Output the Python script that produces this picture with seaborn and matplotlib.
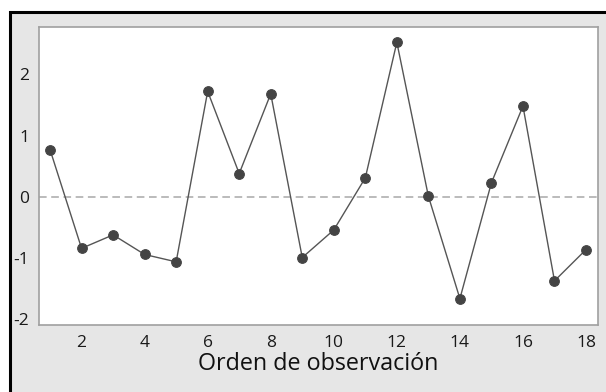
import matplotlib
matplotlib.use("Agg")
import matplotlib.pyplot as plt
import seaborn as sns
import pandas as pd
from matplotlib.patches import Rectangle

orden = list(range(1, 19))
residuos = [0.77, -0.84, -0.62, -0.94, -1.06, 1.72, 0.38, 1.68, -0.99,
            -0.54, 0.31, 2.52, 0.01, -1.66, 0.23, 1.48, -1.37, -0.86]
xticks = [2, 4, 6, 8, 10, 12, 14, 16, 18]
yticks = [-2, -1, 0, 1, 2]
xlabel = "Orden de observación"

sns.set_style("white")
plt.rcParams['font.family'] = ['Open Sans', 'DejaVu Sans']

W, H = 606, 392
fig = plt.figure(figsize=(W / 100, H / 100), dpi=100)
fig.patch.set_facecolor("white")
# outer gray panel with black border
fig.patches.append(Rectangle((10 / W, -0.05), 1.1, (H - 12) / H + 0.05,
                             transform=fig.transFigure, facecolor="#e6e6e6",
                             edgecolor="black", linewidth=2.2, zorder=-10))

left, top, right, bottom = 39, 27, 598, 325
ax = fig.add_axes([left / W, (H - bottom) / H, (right - left) / W, (bottom - top) / H])
ax.set_zorder(5)
ax.set_facecolor("white")

df = pd.DataFrame({"orden": orden, "residuo": residuos})
ax.axhline(0, color="#a8a8a8", linestyle=(0, (5, 3)), linewidth=1.1, zorder=1)
sns.lineplot(data=df, x="orden", y="residuo", ax=ax, color="#555555", linewidth=1.0,
             marker="o", markersize=7, markerfacecolor="#444444",
             markeredgecolor="#444444", zorder=3)

ax.set_xlim(0.65, 18.38)
ax.set_ylim(-2.09, 2.77)
ax.set_xticks(xticks)
ax.set_yticks(yticks)
ax.set_xticklabels([str(t) for t in xticks])
ax.set_yticklabels([str(t) for t in yticks])
ax.set_xlabel(xlabel, fontsize=16.8, color="#111111", labelpad=1)
ax.set_ylabel("")
ax.tick_params(axis="both", which="major", length=4, width=1, color="#a0a0a0",
               labelsize=12.5, labelcolor="#1a1a1a", direction="out", pad=3)
for s in ax.spines.values():
    s.set_color("#a0a0a0")
    s.set_linewidth(1.2)

fig.savefig("out.png", dpi=100)
